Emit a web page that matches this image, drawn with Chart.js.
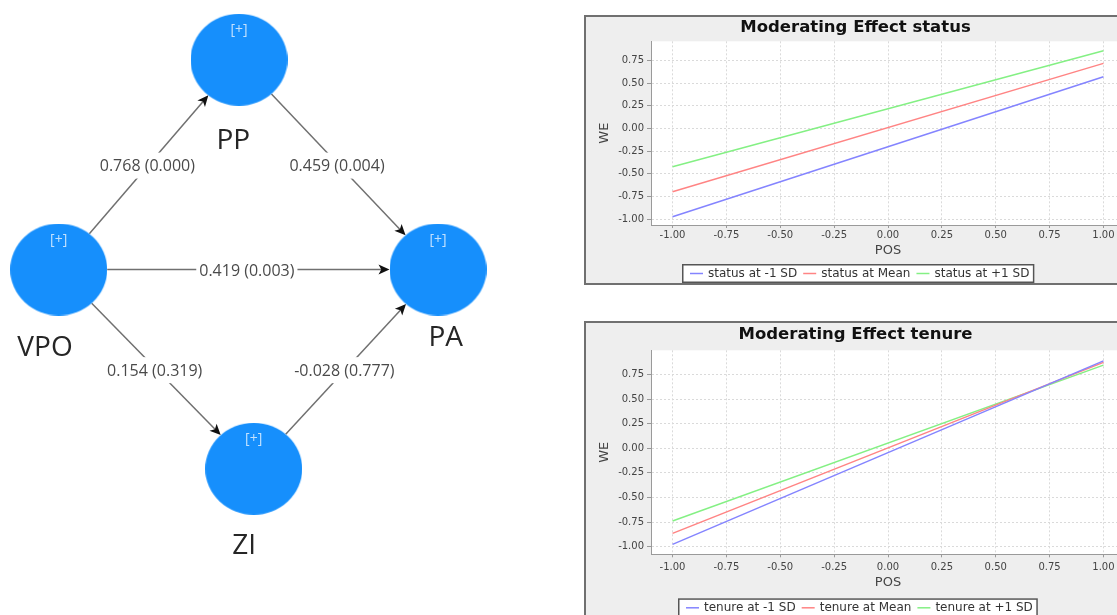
<!DOCTYPE html>
<html>
<head>
<meta charset="utf-8">
<script src="https://cdn.jsdelivr.net/npm/chart.js@4.4.1/dist/chart.umd.min.js"></script>
<style>
  html, body { margin: 0; padding: 0; background: #fff; overflow: hidden; width: 1117px; height: 615px; }
  #model { position: absolute; left: 0; top: 0; }
  .panel { position: absolute; left: 584px; width: 544px; border: 2px solid #707070; background: #eeeeee; }
  #panelStatus { top: 15px; height: 266px; }
  #panelTenure { top: 321px; height: 300px; }
  .panel canvas { display: block; }
</style>
</head>
<body>
<canvas id="model" width="580" height="615"></canvas>
<div class="panel" id="panelStatus"><canvas id="chartStatus" width="544" height="266"></canvas></div>
<div class="panel" id="panelTenure"><canvas id="chartTenure" width="544" height="300"></canvas></div>
<script>
// Structural model: constructs and path estimates (coefficient, p-value)
const constructs = ['VPO', 'PP', 'PA', 'ZI'];
const pathFrom = ['VPO', 'PP', 'VPO', 'VPO', 'ZI'];
const pathTo = ['PP', 'PA', 'PA', 'ZI', 'PA'];
const pathCoef = [0.768, 0.459, 0.419, 0.154, -0.028];
const pathP = [0.000, 0.004, 0.003, 0.319, 0.777];

// Simple slopes: predicted WE at POS = -1 and POS = +1
const posValues = [-1, 1];
const statusLow = [-0.975, 0.571];
const statusMean = [-0.699, 0.719];
const statusHigh = [-0.423, 0.858];
const tenureLow = [-0.976, 0.888];
const tenureMean = [-0.864, 0.872];
const tenureHigh = [-0.739, 0.844];

// Axis tick values
const posTicks = [-1, -0.75, -0.5, -0.25, 0, 0.25, 0.5, 0.75, 1];
const weTicks = [-1, -0.75, -0.5, -0.25, 0, 0.25, 0.5, 0.75];

// ---------- path diagram ----------
const diagramLayout = {
  VPO: { x: 58.7, y: 269.5, labelDx: -13.7, labelDy: 76.3 },
  PP:  { x: 239,  y: 59.7,  labelDx: -5.7,  labelDy: 79.5 },
  PA:  { x: 438,  y: 269.5, labelDx: 7.8,   labelDy: 66.5 },
  ZI:  { x: 253.7, y: 468.8, labelDx: -9.5, labelDy: 75.4 }
};
const nodeRx = 48.5, nodeRy = 46;
const nodeColor = '#168ffc';

const nodeSprite = (() => {
  const c = document.createElement('canvas');
  c.width = nodeRx * 2; c.height = nodeRy * 2;
  const g = c.getContext('2d');
  g.fillStyle = nodeColor;
  g.beginPath();
  g.ellipse(nodeRx, nodeRy, nodeRx, nodeRy, 0, 0, Math.PI * 2);
  g.fill();
  return c;
})();

function nodePixel(chart, name) {
  const p = diagramLayout[name];
  return { x: chart.scales.x.getPixelForValue(p.x), y: chart.scales.y.getPixelForValue(p.y) };
}

function rimOffset(ux, uy) {
  return 1 / Math.sqrt((ux / nodeRx) ** 2 + (uy / nodeRy) ** 2);
}

const pathArrows = {
  id: 'pathArrows',
  beforeDatasetsDraw(chart) {
    const ctx = chart.ctx;
    ctx.save();
    pathFrom.forEach((from, i) => {
      const a = nodePixel(chart, from);
      const b = nodePixel(chart, pathTo[i]);
      const dx = b.x - a.x, dy = b.y - a.y;
      const len = Math.hypot(dx, dy);
      const ux = dx / len, uy = dy / len;
      const t = rimOffset(ux, uy);
      const sx = a.x + ux * t, sy = a.y + uy * t;
      const ex = b.x - ux * t, ey = b.y - uy * t;
      const headLen = 11, headHalf = 5;
      ctx.strokeStyle = '#707070';
      ctx.lineWidth = 1.5;
      ctx.beginPath();
      ctx.moveTo(sx, sy);
      ctx.lineTo(ex - ux * headLen * 0.7, ey - uy * headLen * 0.7);
      ctx.stroke();
      const bx = ex - ux * headLen, by = ey - uy * headLen;
      ctx.fillStyle = '#111';
      ctx.beginPath();
      ctx.moveTo(ex, ey);
      ctx.lineTo(bx - uy * headHalf, by + ux * headHalf);
      ctx.lineTo(ex - ux * headLen * 0.75, ey - uy * headLen * 0.75);
      ctx.lineTo(bx + uy * headHalf, by - ux * headHalf);
      ctx.closePath();
      ctx.fill();

      // estimate label at the middle of the path
      const text = pathCoef[i].toFixed(3) + ' (' + pathP[i].toFixed(3) + ')';
      const mx = (a.x + b.x) / 2 - 1.5, my = (a.y + b.y) / 2 + 1;
      ctx.font = '16px "Open Sans"';
      const w = ctx.measureText(text).width;
      ctx.fillStyle = '#fff';
      ctx.fillRect(mx - w / 2 - 3, my - 13, w + 6, 26);
      ctx.fillStyle = '#4a4a4a';
      ctx.textAlign = 'center';
      ctx.textBaseline = 'alphabetic';
      ctx.fillText(text, mx, my + 5.7);
    });
    ctx.restore();
  },
  afterDatasetsDraw(chart) {
    const ctx = chart.ctx;
    ctx.save();
    ctx.textAlign = 'center';
    constructs.forEach(name => {
      const p = nodePixel(chart, name);
      const l = diagramLayout[name];
      ctx.font = '14px "Open Sans"';
      ctx.fillStyle = 'rgba(225,240,255,0.85)';
      ctx.textBaseline = 'middle';
      ctx.fillText('[+]', p.x, p.y - 29.5);
      ctx.font = '28px "Open Sans"';
      ctx.fillStyle = '#262626';
      ctx.textBaseline = 'alphabetic';
      ctx.fillText(name, p.x + l.labelDx, p.y + l.labelDy + 10);
    });
    ctx.restore();
  }
};

new Chart(document.getElementById('model'), {
  type: 'scatter',
  data: {
    datasets: [{
      data: constructs.map(n => ({ x: diagramLayout[n].x, y: diagramLayout[n].y })),
      pointStyle: nodeSprite,
      pointRadius: 48,
      clip: false
    }]
  },
  options: {
    responsive: false,
    animation: false,
    devicePixelRatio: 1,
    events: [],
    layout: { padding: 0, autoPadding: false },
    scales: {
      x: { type: 'linear', min: 0, max: 580, display: false },
      y: { type: 'linear', min: 0, max: 615, reverse: true, display: false }
    },
    plugins: { legend: { display: false }, tooltip: { enabled: false } }
  },
  plugins: [pathArrows]
});

// ---------- simple-slope charts ----------
const plotBackground = {
  id: 'plotBackground',
  beforeDraw(chart) {
    const { ctx, chartArea: a } = chart;
    ctx.save();
    ctx.fillStyle = '#ffffff';
    ctx.fillRect(a.left, a.top, a.right - a.left, a.bottom - a.top);
    ctx.restore();
  }
};

const slopeLegend = {
  id: 'slopeLegend',
  afterDraw(chart, args, opts) {
    const ctx = chart.ctx;
    ctx.save();
    ctx.font = '12px "DejaVu Sans"';
    const items = chart.data.datasets.map(ds => ({
      text: ds.label, color: ds.borderColor, w: ctx.measureText(ds.label).width
    }));
    const lineLen = 13, lineGap = 5, itemGap = 6, padL = 8, padR = 5;
    const total = padL + padR + itemGap * (items.length - 1) +
      items.reduce((s, it) => s + lineLen + lineGap + it.w, 0);
    const left = Math.round(chart.width / 2 - total / 2);
    const top = opts.top, h = opts.height;
    ctx.fillStyle = '#ffffff';
    ctx.fillRect(left, top, total, h);
    ctx.strokeStyle = '#555';
    ctx.lineWidth = 1.5;
    ctx.strokeRect(left + 0.75, top + 0.75, total - 1.5, h - 1.5);
    let x = left + padL;
    const cy = top + h / 2;
    items.forEach(it => {
      ctx.strokeStyle = it.color;
      ctx.lineWidth = 1.5;
      ctx.beginPath();
      ctx.moveTo(x, cy);
      ctx.lineTo(x + lineLen, cy);
      ctx.stroke();
      x += lineLen + lineGap;
      ctx.fillStyle = '#333';
      ctx.textAlign = 'left';
      ctx.textBaseline = 'middle';
      ctx.fillText(it.text, x, cy + 0.5);
      x += it.w + itemGap;
    });
    ctx.restore();
  }
};

function slopeChart(id, moderator, low, mean, high, cfg) {
  const series = (vals) => posValues.map((x, i) => ({ x, y: vals[i] }));
  const line = (label, vals, color) => ({
    label, data: series(vals), borderColor: color, backgroundColor: color,
    borderWidth: 1.5, pointRadius: 0, fill: false, tension: 0
  });
  const tickFont = { family: 'DejaVu Sans', size: 10 };
  const axisFont = { family: 'DejaVu Sans', size: 13 };
  return new Chart(document.getElementById(id), {
    type: 'line',
    data: {
      datasets: [
        line(moderator + ' at -1 SD', low, '#8484ff'),
        line(moderator + ' at Mean', mean, '#ff8484'),
        line(moderator + ' at +1 SD', high, '#84f084')
      ]
    },
    options: {
      responsive: false,
      animation: false,
      devicePixelRatio: 1,
      events: [],
      layout: { padding: { left: 0, right: 5, top: 0, bottom: cfg.padBottom } },
      scales: {
        x: {
          type: 'linear', min: -1.1, max: 1.1,
          afterBuildTicks: s => { s.ticks = posTicks.map(v => ({ value: v })); },
          afterFit: s => { s.height = cfg.xHeight; },
          grid: { color: '#dadada', tickColor: '#999', tickLength: 3, lineWidth: 1 },
          border: { display: true, color: '#9a9a9a', width: 1, dash: [2, 2] },
          ticks: { font: tickFont, color: '#444', padding: cfg.xTickPad, maxRotation: 0, autoSkip: false,
                   callback: v => Number(v).toFixed(2) },
          title: { display: true, text: 'POS', font: axisFont, color: '#444',
                   padding: { top: 0, bottom: cfg.posPad } }
        },
        y: {
          type: 'linear', min: cfg.yMin, max: cfg.yMax,
          afterBuildTicks: s => { s.ticks = weTicks.map(v => ({ value: v })); },
          afterFit: s => { s.width = 65; },
          grid: { color: '#dadada', tickColor: '#999', tickLength: 4, lineWidth: 1 },
          border: { display: true, color: '#9a9a9a', width: 1, dash: [2, 2] },
          ticks: { font: tickFont, color: '#444', padding: 3, autoSkip: false,
                   callback: v => Number(v).toFixed(2) },
          title: { display: true, text: 'WE', font: axisFont, color: '#444',
                   padding: { top: 11, bottom: 0 } }
        }
      },
      plugins: {
        legend: { display: false },
        tooltip: { enabled: false },
        title: {
          display: true, text: 'Moderating Effect ' + moderator, color: '#111',
          font: { family: 'DejaVu Sans', size: 16.5, weight: 'bold' },
          padding: { top: cfg.titleTop, bottom: cfg.titleBottom }
        },
        slopeLegend: { top: cfg.legendTop, height: 19 }
      }
    },
    plugins: [plotBackground, slopeLegend]
  });
}

slopeChart('chartStatus', 'status', statusLow, statusMean, statusHigh, {
  yMin: -1.066, yMax: 0.963, padBottom: 20, xHeight: 38, xTickPad: 1, posPad: 5,
  titleTop: 1, titleBottom: 3.5, legendTop: 247
});
slopeChart('chartTenure', 'tenure', tenureLow, tenureMean, tenureHigh, {
  yMin: -1.077, yMax: 0.995, padBottom: 26.7, xHeight: 42, xTickPad: 3.8, posPad: 6.2,
  titleTop: 2, titleBottom: 5.5, legendTop: 275.3
});
</script>
</body>
</html>
